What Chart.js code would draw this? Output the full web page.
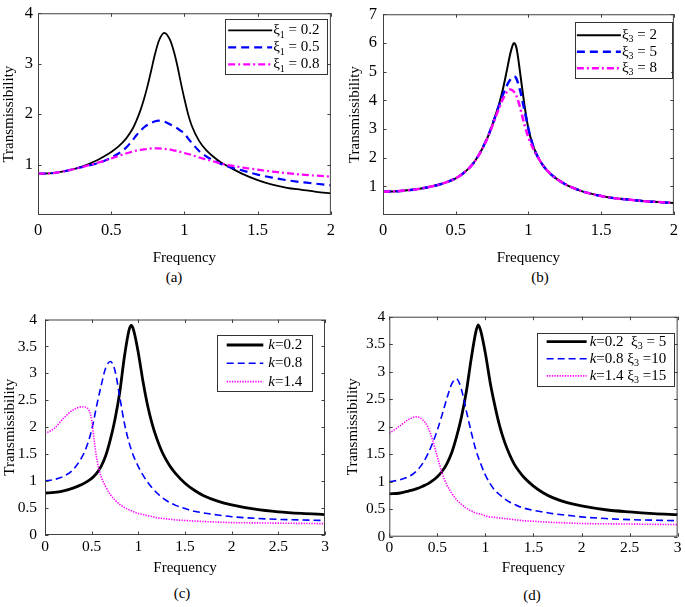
<!DOCTYPE html>
<html lang="en">
<head>
<meta charset="UTF-8">
<title>Transmissibility</title>
<script src="https://cdn.jsdelivr.net/npm/chart.js"></script>
<style>
  body { margin: 0; background: #fff; }
  #fig { position: relative; width: 685px; height: 607px; background: #fff; }
  canvas { position: absolute; }
  .cap { position: absolute; font: 15px 'Liberation Serif', 'Times New Roman', serif; transform: translate(-50%, -50%); }
</style>
</head>
<body>
<div id="fig">
  <canvas id="ca" width="342" height="267" style="left:0;top:0"></canvas>
  <canvas id="cb" width="343" height="267" style="left:342px;top:0"></canvas>
  <canvas id="cc" width="342" height="277" style="left:0;top:300px"></canvas>
  <canvas id="cd" width="343" height="277" style="left:342px;top:300px"></canvas>
  <div class="cap" style="left:174px;top:277px">(a)</div>
  <div class="cap" style="left:540px;top:277px">(b)</div>
  <div class="cap" style="left:182px;top:593px">(c)</div>
  <div class="cap" style="left:532px;top:595px">(d)</div>
</div>
<script>
// ---- data ----
const freqA = [0, 0.1, 0.2, 0.3, 0.4, 0.45, 0.5, 0.55, 0.6, 0.625, 0.65, 0.675, 0.7, 0.725, 0.75, 0.775, 0.8, 0.825, 0.8625, 0.9, 0.925, 0.95, 0.975, 1.0, 1.025, 1.05, 1.1, 1.15, 1.2, 1.25, 1.3, 1.4, 1.5, 1.6, 1.7, 1.8, 1.9, 2.0];
const xi1_02 = [0.82, 0.83, 0.88, 0.96, 1.08, 1.16, 1.25, 1.36, 1.51, 1.61, 1.73, 1.89, 2.08, 2.31, 2.58, 2.89, 3.2, 3.45, 3.61, 3.48, 3.27, 2.98, 2.63, 2.3, 2.0, 1.77, 1.47, 1.28, 1.15, 1.04, 0.96, 0.81, 0.69, 0.6, 0.54, 0.5, 0.46, 0.43];
const xi1_05 = [0.82, 0.83, 0.88, 0.95, 1.02, 1.07, 1.14, 1.22, 1.33, 1.41, 1.5, 1.59, 1.67, 1.74, 1.79, 1.83, 1.86, 1.87, 1.85, 1.8, 1.76, 1.72, 1.67, 1.61, 1.52, 1.43, 1.27, 1.16, 1.08, 1.01, 0.96, 0.88, 0.8, 0.74, 0.69, 0.65, 0.62, 0.59];
const xi1_08 = [0.82, 0.83, 0.88, 0.95, 1.03, 1.07, 1.12, 1.17, 1.22, 1.24, 1.26, 1.28, 1.29, 1.3, 1.31, 1.32, 1.32, 1.32, 1.31, 1.3, 1.28, 1.27, 1.25, 1.23, 1.21, 1.19, 1.14, 1.1, 1.06, 1.02, 0.99, 0.94, 0.9, 0.86, 0.83, 0.8, 0.78, 0.76];

const freqB = [0, 0.1, 0.2, 0.3, 0.4, 0.5, 0.55, 0.6, 0.625, 0.65, 0.675, 0.7, 0.725, 0.75, 0.775, 0.8, 0.825, 0.85, 0.875, 0.89, 0.9, 0.915, 0.925, 0.94, 0.95, 0.96, 0.975, 1.0, 1.025, 1.05, 1.075, 1.1, 1.15, 1.2, 1.25, 1.3, 1.35, 1.4, 1.5, 1.6, 1.7, 1.8, 1.9, 2.0];
const xi3_2 = [0.81, 0.83, 0.88, 0.96, 1.08, 1.28, 1.45, 1.68, 1.83, 2.02, 2.24, 2.5, 2.78, 3.12, 3.5, 3.9, 4.4, 5.0, 5.62, 5.9, 6.0, 5.88, 5.62, 5.07, 4.68, 4.3, 3.75, 3.0, 2.52, 2.18, 1.93, 1.73, 1.44, 1.24, 1.08, 0.96, 0.86, 0.78, 0.66, 0.58, 0.53, 0.48, 0.45, 0.42];
const xi3_5 = [0.81, 0.83, 0.88, 0.96, 1.08, 1.28, 1.45, 1.68, 1.83, 2.02, 2.24, 2.5, 2.78, 3.12, 3.48, 3.85, 4.2, 4.5, 4.72, 4.8, 4.83, 4.78, 4.65, 4.4, 4.2, 3.95, 3.6, 3.0, 2.52, 2.18, 1.93, 1.73, 1.44, 1.24, 1.08, 0.96, 0.86, 0.78, 0.66, 0.58, 0.53, 0.48, 0.45, 0.42];
const xi3_8 = [0.81, 0.83, 0.88, 0.96, 1.08, 1.28, 1.45, 1.68, 1.83, 2.02, 2.23, 2.48, 2.76, 3.08, 3.43, 3.75, 4.05, 4.28, 4.38, 4.35, 4.3, 4.18, 4.05, 3.8, 3.6, 3.4, 3.1, 2.7, 2.4, 2.14, 1.93, 1.73, 1.44, 1.24, 1.08, 0.96, 0.86, 0.78, 0.66, 0.58, 0.53, 0.48, 0.45, 0.42];

const freqC = [0, 0.1, 0.2, 0.3, 0.4, 0.45, 0.5, 0.525, 0.55, 0.6, 0.65, 0.7, 0.75, 0.8, 0.85, 0.9, 0.925, 0.95, 1.0, 1.05, 1.1, 1.15, 1.2, 1.25, 1.3, 1.35, 1.4, 1.5, 1.6, 1.7, 1.85, 2.0, 2.25, 2.5, 2.75, 3.0];
const k02 = [0.78, 0.79, 0.82, 0.87, 0.94, 0.99, 1.05, 1.09, 1.14, 1.27, 1.47, 1.77, 2.15, 2.64, 3.3, 3.8, 3.89, 3.8, 3.38, 2.85, 2.4, 2.05, 1.78, 1.56, 1.39, 1.25, 1.14, 0.96, 0.83, 0.73, 0.63, 0.56, 0.48, 0.43, 0.4, 0.38];
const k08 = [1.0, 1.03, 1.09, 1.21, 1.46, 1.66, 1.95, 2.15, 2.37, 2.76, 3.1, 3.22, 3.05, 2.57, 2.08, 1.72, 1.58, 1.46, 1.27, 1.11, 0.98, 0.87, 0.78, 0.7, 0.64, 0.59, 0.55, 0.49, 0.44, 0.41, 0.37, 0.34, 0.31, 0.29, 0.28, 0.27];
const k14 = [1.88, 1.98, 2.17, 2.32, 2.38, 2.36, 2.14, 1.78, 1.46, 1.09, 0.9, 0.75, 0.65, 0.57, 0.51, 0.47, 0.45, 0.43, 0.4, 0.38, 0.36, 0.34, 0.32, 0.31, 0.3, 0.29, 0.28, 0.27, 0.26, 0.25, 0.24, 0.23, 0.225, 0.22, 0.215, 0.21];

const freqD = [0, 0.1, 0.2, 0.28, 0.35, 0.4, 0.45, 0.5, 0.55, 0.6, 0.65, 0.7, 0.75, 0.8, 0.85, 0.9, 0.925, 0.95, 1.0, 1.05, 1.1, 1.15, 1.2, 1.25, 1.3, 1.35, 1.4, 1.5, 1.6, 1.7, 1.85, 2.0, 2.25, 2.5, 2.75, 3.0];
const k02xi5 = [0.78, 0.79, 0.83, 0.87, 0.92, 0.96, 1.02, 1.09, 1.19, 1.33, 1.53, 1.82, 2.17, 2.62, 3.21, 3.72, 3.85, 3.75, 3.33, 2.8, 2.37, 2.0, 1.72, 1.5, 1.32, 1.19, 1.08, 0.92, 0.8, 0.71, 0.62, 0.56, 0.49, 0.45, 0.42, 0.4];
const k08xi10 = [1.0, 1.03, 1.09, 1.19, 1.34, 1.5, 1.7, 1.94, 2.22, 2.52, 2.78, 2.87, 2.68, 2.3, 1.92, 1.58, 1.45, 1.33, 1.12, 0.96, 0.84, 0.76, 0.69, 0.63, 0.59, 0.55, 0.52, 0.48, 0.45, 0.42, 0.39, 0.36, 0.33, 0.31, 0.3, 0.29];
const k14xi15 = [1.88, 2.0, 2.13, 2.18, 2.12, 2.0, 1.76, 1.45, 1.15, 0.94, 0.79, 0.67, 0.59, 0.52, 0.47, 0.43, 0.42, 0.41, 0.38, 0.36, 0.35, 0.34, 0.33, 0.32, 0.31, 0.3, 0.29, 0.28, 0.27, 0.26, 0.25, 0.24, 0.235, 0.23, 0.225, 0.22];

// legend labels ($..$ = italic, _c = subscript)
const labelsA = ['ξ_1 = 0.2', 'ξ_1 = 0.5', 'ξ_1 = 0.8'];
const labelsB = ['ξ_3 = 2', 'ξ_3 = 5', 'ξ_3 = 8'];
const labelsC = ['$k$=0.2', '$k$=0.8', '$k$=1.4'];
const labelsD = ['$k$=0.2  ξ_3 = 5', '$k$=0.8 ξ_3 =10', '$k$=1.4 ξ_3 =15'];

// ticks
const xTicks2 = [0, 0.5, 1, 1.5, 2];
const xTicks3 = [0, 0.5, 1, 1.5, 2, 2.5, 3];
const yTicksA = [1, 2, 3, 4];
const yTicksB = [1, 2, 3, 4, 5, 6, 7];
const yTicksC = [0, 0.5, 1, 1.5, 2, 2.5, 3, 3.5, 4];

// ---- drawing ----
const FAMILY = "'Liberation Serif', 'Times New Roman', serif";
const pts = (xs, ys) => xs.map((x, i) => ({ x: x, y: ys[i] }));

function drawRich(ctx, str, x, y, size) {
  const re = /\$([^$]+)\$|_(.)|([^$_]+)/g;
  let m;
  while ((m = re.exec(str))) {
    let t, dy = 0;
    if (m[1]) { t = m[1]; ctx.font = 'italic ' + size + 'px ' + FAMILY; }
    else if (m[2]) { t = m[2]; ctx.font = Math.round(size * 0.68) + 'px ' + FAMILY; dy = size * 0.3; }
    else { t = m[3]; ctx.font = size + 'px ' + FAMILY; }
    ctx.fillText(t, x, y + dy);
    x += ctx.measureText(t).width;
  }
}

const boxPlugin = {
  id: 'box',
  afterDatasetsDraw(chart) {
    const { ctx, chartArea: a, scales: { x, y } } = chart;
    ctx.save();
    ctx.strokeStyle = '#404040';
    ctx.lineWidth = 1;
    ctx.strokeRect(a.left + 0.5, a.top + 0.5, a.right - a.left - 1, a.bottom - a.top - 1);
    ctx.beginPath();
    x.ticks.forEach(t => {
      const p = Math.round(x.getPixelForValue(t.value)) + 0.5;
      ctx.moveTo(p, a.bottom); ctx.lineTo(p, a.bottom - 3.5);
      ctx.moveTo(p, a.top); ctx.lineTo(p, a.top + 3.5);
    });
    y.ticks.forEach(t => {
      const p = Math.round(y.getPixelForValue(t.value)) + 0.5;
      ctx.moveTo(a.left, p); ctx.lineTo(a.left + 3.5, p);
      ctx.moveTo(a.right, p); ctx.lineTo(a.right - 3.5, p);
    });
    ctx.stroke();
    ctx.restore();
  },
  afterDraw(chart, args, opts) {
    if (!opts.width) return;
    const { ctx, chartArea: a } = chart;
    const left = a.right - opts.right - opts.width;
    const top = a.top + opts.top;
    ctx.save();
    ctx.fillStyle = '#fff';
    ctx.fillRect(left, top, opts.width, opts.height);
    ctx.strokeStyle = '#333';
    ctx.lineWidth = 1;
    ctx.strokeRect(Math.round(left) + 0.5, Math.round(top) + 0.5, Math.round(opts.width), Math.round(opts.height));
    chart.data.datasets.forEach((ds, i) => {
      const yy = top + opts.row0 + i * opts.rowGap;
      ctx.beginPath();
      ctx.strokeStyle = ds.borderColor;
      ctx.lineWidth = ds.borderWidth;
      ctx.setLineDash(ds.borderDash || []);
      ctx.moveTo(left + opts.line0, yy);
      ctx.lineTo(left + opts.line1, yy);
      ctx.stroke();
      ctx.setLineDash([]);
      ctx.fillStyle = '#000';
      ctx.textBaseline = 'middle';
      drawRich(ctx, ds.label, left + opts.text0, yy, 15);
    });
    ctx.restore();
  }
};

function makePanel(id, p) {
  const tickFont = { family: FAMILY, size: p.tickSize, lineHeight: 1 };
  const titleFont = { family: FAMILY, size: 15, lineHeight: 1.2 };
  new Chart(document.getElementById(id), {
    type: 'line',
    data: { datasets: p.datasets },
    options: {
      responsive: false,
      animation: false,
      events: [],
      layout: { padding: p.padding },
      elements: { point: { radius: 0 }, line: { cubicInterpolationMode: 'monotone' } },
      plugins: { legend: { display: false }, tooltip: { enabled: false }, box: p.legend },
      scales: {
        x: {
          type: 'linear', min: p.xMin, max: p.xMax,
          afterBuildTicks: s => { s.ticks = p.xTicks.map(v => ({ value: v })); },
          afterFit: s => { s.height = p.xHeight; },
          ticks: { font: tickFont, color: '#000', padding: p.xPad, maxRotation: 0, autoSkip: false, callback: v => String(v) },
          grid: { display: false, drawTicks: false },
          border: { display: false },
          title: { display: true, text: 'Frequency', font: titleFont, color: '#000', padding: 0 }
        },
        y: {
          type: 'linear', min: p.yMin, max: p.yMax,
          afterBuildTicks: s => { s.ticks = p.yTicks.map(v => ({ value: v })); },
          afterFit: s => { s.width = p.yWidth; },
          ticks: { font: tickFont, color: '#000', padding: p.yPad, autoSkip: false, callback: v => String(v) },
          grid: { display: false, drawTicks: false },
          border: { display: false },
          title: { display: true, text: 'Transmissibility', font: titleFont, color: '#000', padding: { top: p.yTitlePad, bottom: 0 } }
        }
      }
    },
    plugins: [boxPlugin]
  });
}

function lineSet(label, data, color, width, dash, order) {
  return { label: label, data: data, borderColor: color, borderWidth: width, borderDash: dash, order: order, fill: false };
}

makePanel('ca', {
  datasets: [
    lineSet(labelsA[0], pts(freqA, xi1_02), '#000000', 1.8, [], 3),
    lineSet(labelsA[1], pts(freqA, xi1_05), '#0000ff', 2.2, [8, 5], 2),
    lineSet(labelsA[2], pts(freqA, xi1_08), '#ff00ff', 2.2, [7, 3, 2, 3], 1)
  ],
  padding: { left: 0, top: 8, right: 10, bottom: 0 }, tickSize: 16.5,
  xMin: 0, xMax: 2, xTicks: xTicks2, xHeight: 52, xPad: 7,
  yMin: 0, yMax: 4, yTicks: yTicksA, yWidth: 38, yPad: 5, yTitlePad: 0,
  legend: { right: 3.7, top: 5.7, width: 102, height: 55, row0: 11.5, rowGap: 17, line0: 3, line1: 47, text0: 48 }
});

makePanel('cb', {
  datasets: [
    lineSet(labelsB[0], pts(freqB, xi3_2), '#000000', 2, [], 3),
    lineSet(labelsB[1], pts(freqB, xi3_5), '#0000ff', 2.5, [8, 5], 2),
    lineSet(labelsB[2], pts(freqB, xi3_8), '#ff00ff', 2.5, [7, 3, 2, 3], 1)
  ],
  padding: { left: 0, top: 7.5, right: 5, bottom: 0 }, tickSize: 16.5,
  xMin: 0, xMax: 2, xTicks: xTicks2, xHeight: 52, xPad: 7,
  yMin: 0, yMax: 7, yTicks: yTicksB, yWidth: 41, yPad: 6, yTitlePad: 4,
  legend: { right: 2.7, top: 7.7, width: 96.6, height: 55.7, row0: 13.3, rowGap: 16.5, line0: 2.3, line1: 46.3, text0: 47.3 }
});

makePanel('cc', {
  datasets: [
    lineSet(labelsC[0], pts(freqC, k02), '#000000', 2.8, [], 3),
    lineSet(labelsC[1], pts(freqC, k08), '#0000ff', 1.6, [7, 4], 2),
    lineSet(labelsC[2], pts(freqC, k14), '#ff00ff', 1.6, [1.3, 1.3], 1)
  ],
  padding: { left: 0, top: 19.5, right: 17, bottom: 0 }, tickSize: 15.5,
  xMin: 0, xMax: 3, xTicks: xTicks3, xHeight: 42, xPad: 4.5,
  yMin: 0, yMax: 4, yTicks: yTicksC, yWidth: 45, yPad: 8, yTitlePad: 1,
  legend: { right: 13.3, top: 15.5, width: 95, height: 55.7, row0: 10, rowGap: 18.3, line0: 10, line1: 46.6, text0: 51.6 }
});

makePanel('cd', {
  datasets: [
    lineSet(labelsD[0], pts(freqD, k02xi5), '#000000', 2.8, [], 3),
    lineSet(labelsD[1], pts(freqD, k08xi10), '#0000ff', 1.6, [7, 4], 2),
    lineSet(labelsD[2], pts(freqD, k14xi15), '#ff00ff', 1.6, [1.3, 1.3], 1)
  ],
  padding: { left: 0, top: 16.7, right: 7, bottom: 0 }, tickSize: 15.5,
  xMin: 0, xMax: 3, xTicks: xTicks3, xHeight: 40.3, xPad: 3.5,
  yMin: 0, yMax: 4, yTicks: yTicksC, yWidth: 47.3, yPad: 4, yTitlePad: 2,
  legend: { right: 3.7, top: 16.6, width: 136.6, height: 52.7, row0: 8.4, rowGap: 17.1, line0: 9.3, line1: 49.3, text0: 52.3 }
});
</script>
</body>
</html>
